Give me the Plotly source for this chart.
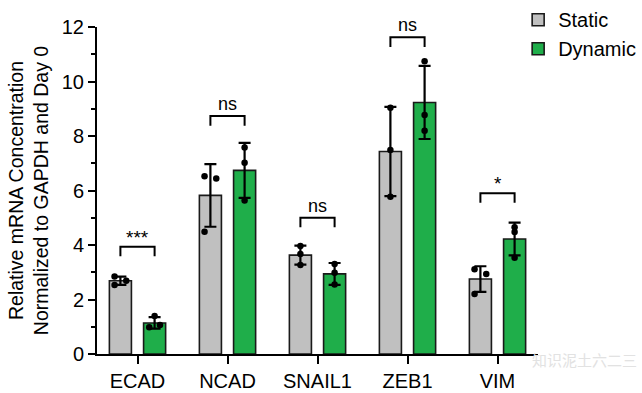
import numpy as np
import plotly.graph_objects as go

categories = ["ECAD", "NCAD", "SNAIL1", "ZEB1", "VIM"]
static_mean = [2.69, 5.82, 3.63, 7.43, 2.75]
static_sd = [0.15, 1.15, 0.35, 1.64, 0.47]
dynamic_mean = [1.14, 6.74, 2.94, 9.23, 4.22]
dynamic_sd = [0.21, 1.01, 0.40, 1.34, 0.60]
static_points = [[2.84, 2.69, 2.53], [6.52, 6.44, 4.49], [3.96, 3.67, 3.27],
                 [9.04, 7.49, 5.77], [3.11, 2.94, 2.20]]
dynamic_points = [[1.39, 0.98, 1.06], [7.58, 7.02, 5.63], [3.30, 2.98, 2.55],
                  [10.74, 8.77, 8.19], [4.65, 4.48, 3.53]]
sig_labels = ["***", "ns", "ns", "ns", "*"]
sig_heights = [3.94, 8.73, 5.0, 11.62, 5.9]
y_ticks = [0, 2, 4, 6, 8, 10, 12]

GRAY = "#c0c0c0"
GREEN = "#1fae4a"
FONT = "Liberation Sans, Arial, sans-serif"

# layout geometry (in category units)
OFF = 0.19
BW = 0.245
JIT = [-0.065, 0.065, -0.065]
JIT_D = [0.0, -0.06, 0.06]
LEG = 0.35

x_idx = np.arange(len(categories))
fig = go.Figure()

fig.add_trace(go.Bar(
    x=x_idx - OFF, y=static_mean, width=BW, name="Static",
    marker=dict(color=GRAY, line=dict(color="#1a1a1a", width=1.6)),
    error_y=dict(type="data", array=static_sd, visible=True, color="black",
                 thickness=2.2, width=6),
))
fig.add_trace(go.Bar(
    x=x_idx + OFF, y=dynamic_mean, width=BW, name="Dynamic",
    marker=dict(color=GREEN, line=dict(color="#1a1a1a", width=1.6)),
    error_y=dict(type="data", array=dynamic_sd, visible=True, color="black",
                 thickness=2.2, width=6),
))

# individual points
sx, sy, dx, dy = [], [], [], []
for i, pts in enumerate(static_points):
    for j, v in enumerate(pts):
        jit = JIT[j] if i in (0, 1, 4) else 0.0
        sx.append(i - OFF + jit)
        sy.append(v)
for i, pts in enumerate(dynamic_points):
    for j, v in enumerate(pts):
        jit = JIT_D[j] if i == 0 else 0.0
        dx.append(i + OFF + jit)
        dy.append(v)
fig.add_trace(go.Scatter(x=sx + dx, y=sy + dy, mode="markers",
                         marker=dict(color="black", size=6.5),
                         showlegend=False, hoverinfo="skip"))

# significance brackets
for i, (lab, h) in enumerate(zip(sig_labels, sig_heights)):
    fig.add_trace(go.Scatter(
        x=[i - OFF, i - OFF, i + OFF, i + OFF],
        y=[h - LEG, h, h, h - LEG], mode="lines",
        line=dict(color="black", width=2), showlegend=False, hoverinfo="skip"))
    fig.add_annotation(x=i, y=h, text=lab, showarrow=False, yanchor="bottom",
                       yshift=0 if lab == "ns" else -3,
                       font=dict(family=FONT, size=18 if lab == "ns" else 19,
                                 color="black"))

fig.add_annotation(xref="paper", yref="paper", x=1.228, y=-0.055,
                   text="知识泥土六二三", showarrow=False, xanchor="right",
                   font=dict(family="Noto Sans CJK SC", size=15, color="#e2e2e2"))

fig.update_layout(
    width=642, height=393,
    margin=dict(l=97, r=104, t=27, b=39, autoexpand=False),
    paper_bgcolor="white", plot_bgcolor="white",
    font=dict(family=FONT, size=19, color="black"),
    showlegend=True,
    legend=dict(x=0.955, y=1.082, xanchor="left", yanchor="top",
                font=dict(family=FONT, size=20), tracegroupgap=0,
                itemwidth=30, bgcolor="rgba(0,0,0,0)"),
    xaxis=dict(range=[-0.45, 4.45], tickmode="array", tickvals=list(x_idx),
               ticktext=categories, showline=True, linecolor="black",
               linewidth=2, ticks="outside", ticklen=8, tickwidth=2,
               tickcolor="black", showgrid=False, zeroline=False,
               automargin=False, tickfont=dict(family=FONT, size=20)),
    yaxis=dict(range=[0, 12], tickmode="array", tickvals=y_ticks,
               showline=True, linecolor="black", linewidth=2,
               ticks="outside", ticklen=7, tickwidth=2, tickcolor="black",
               showgrid=False, zeroline=False, automargin=False,
               tickfont=dict(family=FONT, size=20),
               minor=dict(tickmode="array", tickvals=[1, 3, 5, 7, 9, 11],
                          ticks="outside", ticklen=4, tickwidth=2,
                          tickcolor="black"),
               title=dict(text="Relative mRNA Concentration<br>Normalized to GAPDH and Day 0",
                          font=dict(family=FONT, size=19.5), standoff=8)),
)

fig.write_html("out.html", config={"displayModeBar": False},
               post_script="document.body.style.margin='0';document.body.style.overflow='hidden';")
